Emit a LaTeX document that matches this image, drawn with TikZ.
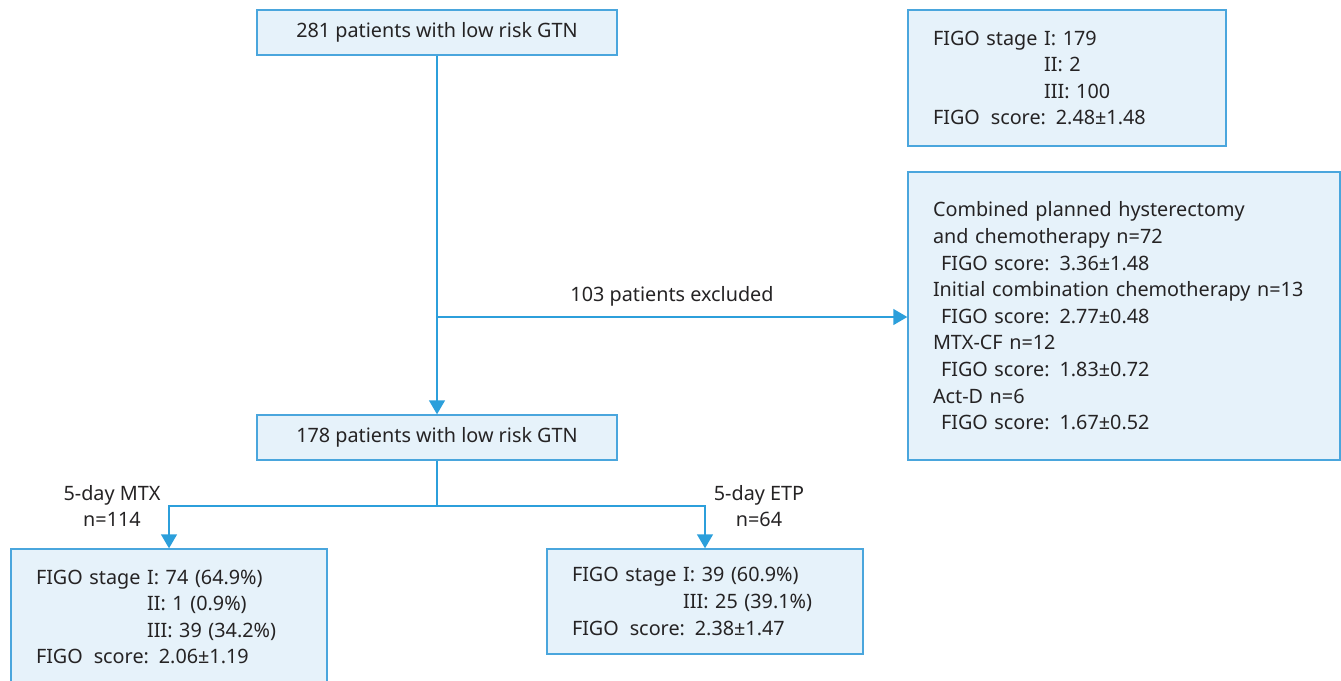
\documentclass[tikz,border=0pt]{standalone}
\usepackage{fontspec}
\setmainfont{Noto Sans}
\usetikzlibrary{arrows.meta}
\definecolor{boxline}{HTML}{4AA6DD}
\definecolor{boxfill}{HTML}{E6F2FA}
\definecolor{arrowblue}{HTML}{2C9FDB}
\definecolor{ink}{HTML}{252324}
\tikzset{
  flowbox/.style={draw=boxline, fill=boxfill, line width=1.4pt, rectangle,
    inner xsep=25pt, inner ysep=0pt, text=ink},
  titlebox/.style={flowbox, minimum width=360pt, minimum height=45pt, inner xsep=0pt,
    font=\fontsize{19.8}{23}\selectfont},
  listbox/.style={flowbox, align=left, font=\fontsize{19.8}{26.6}\selectfont},
  link/.style={draw=arrowblue, line width=1.4pt},
  linkarrow/.style={link, -{Triangle[length=14pt,width=16pt]}},
  branchlabel/.style={text=ink, align=center, inner sep=0pt,
    font=\fontsize{19.8}{26}\selectfont}
}
\newcommand{\dscore}{FIGO\hspace{0.55em}score}
\begin{document}
\begin{tikzpicture}[x=1pt, y=-1pt]
  \useasboundingbox (0,0) rectangle (1341,680);

  % main column
  \node[titlebox] (top) at (437,32.5) {281 patients with low risk GTN};
  \node[titlebox] (mid) at (437,437.5) {178 patients with low risk GTN};

  % staging summary of the whole cohort
  \node[listbox, minimum width=318pt, minimum height=136pt, text width=268pt] (stage) at (1067,78)
    {FIGO stage I: 179\\
     \phantom{FIGO stage }II: 2\\
     \phantom{FIGO stage }III: 100\\
     \dscore: 2.48±1.48};

  % excluded patients
  \node[listbox, minimum width=432pt, minimum height=288pt, text width=382pt] (excl) at (1124,316)
    {Combined planned hysterectomy\\
     and chemotherapy n=72\\
     \hspace{8pt}FIGO score: 3.36±1.48\\
     Initial combination chemotherapy n=13\\
     \hspace{8pt}FIGO score: 2.77±0.48\\
     MTX-CF n=12\\
     \hspace{8pt}FIGO score: 1.83±0.72\\
     Act-D n=6\\
     \hspace{8pt}FIGO score: 1.67±0.52};

  % treatment arms
  \node[listbox, minimum width=316pt, minimum height=136pt, text width=266pt] (mtx) at (169,617)
    {FIGO stage I: 74 (64.9\%)\\
     \phantom{FIGO stage }II: 1 (0.9\%)\\
     \phantom{FIGO stage }III: 39 (34.2\%)\\
     \dscore: 2.06±1.19};
  \node[listbox, minimum width=316pt, minimum height=105pt, text width=266pt] (etp) at (705,601.5)
    {FIGO stage I: 39 (60.9\%)\\
     \phantom{FIGO stage }III: 25 (39.1\%)\\
     \dscore: 2.38±1.47};

  % connectors
  \coordinate (exit) at (437,317);
  \coordinate (split) at (437,506);
  \draw[linkarrow] (top.south) -- (mid.north);
  \draw[linkarrow] (exit) -- (exit -| excl.west);
  \draw[link] (mid.south) -- (split);
  \draw[linkarrow] (split) -| (mtx.north);
  \draw[linkarrow] (split) -| (etp.north);

  % labels
  \node[branchlabel] (exlabel) at (672,296) {103 patients excluded};
  \node[branchlabel] (mtxlabel) at (112,506) {5-day MTX\\n=114};
  \node[branchlabel] (etplabel) at (759,506) {5-day ETP\\n=64};
\end{tikzpicture}
\end{document}
